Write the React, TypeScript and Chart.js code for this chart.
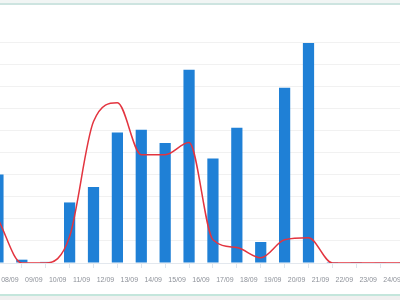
import React, { useEffect, useRef } from "react";
import { Chart, registerables } from "chart.js";

Chart.register(...registerables);

const dates = [
  "07/09", "08/09", "09/09", "10/09", "11/09", "12/09", "13/09", "14/09", "15/09",
  "16/09", "17/09", "18/09", "19/09", "20/09", "21/09", "22/09", "23/09", "24/09", "25/09",
];
const barValues = [4.0, 0.15, 0.05, 2.74, 3.44, 5.91, 6.03, 5.43, 8.75, 4.73, 6.12, 0.95, 7.93, 9.95, 0.04, 0.04, 0.03, 0.03];
const lineValues = [2.0, 0, 0, 1.2, 6.4, 7.25, 4.9, 4.9, 5.45, 1.05, 0.7, 0.24, 1.05, 1.14, 0, 0, 0, 0];
const yMax = 10;

export default function App() {
  const ref = useRef<HTMLCanvasElement>(null);

  useEffect(() => {
    if (!ref.current) return;
    const barData = barValues.map((v, i) => ({ x: i + 0.5, y: v }));
    const lineData = lineValues.map((v, i) => ({ x: i + 0.5, y: v }));
    const chart = new Chart(ref.current, {
      type: "bar",
      data: {
        datasets: [
          {
            type: "line",
            data: lineData,
            borderColor: "#e3343f",
            borderWidth: 1.5,
            pointRadius: 0,
            fill: false,
            cubicInterpolationMode: "monotone",
            order: 0,
          },
          {
            type: "bar",
            data: barData,
            backgroundColor: "#1f80d6",
            categoryPercentage: 1,
            barPercentage: 0.47,
            order: 1,
          },
        ],
      },
      options: {
        animation: false,
        responsive: false,
        layout: { padding: { top: 42, left: 0, right: 0, bottom: 0 } },
        plugins: { legend: { display: false }, tooltip: { enabled: false } },
        scales: {
          x: {
            type: "linear",
            min: 0,
            max: dates.length - 1,
            offset: false,
            grid: { drawOnChartArea: false, drawTicks: true, tickLength: 5, color: "#dfe5ec" },
            border: { display: true, color: "#e3e8ee" },
            ticks: {
              stepSize: 1,
              autoSkip: false,
              maxRotation: 0,
              padding: 8,
              color: "#8d9199",
              font: { family: "Liberation Sans", size: 7 },
              callback: (v: any) => dates[Number(v)] ?? "",
            },
            afterFit: (s: any) => {
              s.height = 30;
              s.paddingLeft = 0;
              s.paddingRight = 0;
            },
          },
          y: {
            min: 0,
            max: yMax,
            ticks: { display: false, stepSize: 1 },
            grid: { drawTicks: false, color: "#f1f1f1" },
            border: { display: false },
            afterFit: (s: any) => {
              s.width = 0;
              s.paddingTop = 0;
              s.paddingBottom = 0;
            },
          },
        },
      },
    } as any);
    return () => chart.destroy();
  }, []);

  return (
    <div style={{ position: "fixed", left: 0, top: 0, width: 400, height: 300, overflow: "hidden", background: "#ffffff" }}>
      <div style={{ position: "absolute", left: 0, top: 0, width: 400, height: 3, background: "#f1f5f4" }} />
      <div style={{ position: "absolute", left: 0, top: 3, width: 400, height: 2, background: "#cde4e0" }} />
      <canvas ref={ref} width={430} height={293} style={{ position: "absolute", left: -14, top: 0 }} />
      <div style={{ position: "absolute", left: 0, top: 294, width: 400, height: 2, background: "#c4e6dc" }} />
      <div style={{ position: "absolute", left: 0, top: 296, width: 400, height: 4, background: "#f0f0f0" }} />
    </div>
  );
}
